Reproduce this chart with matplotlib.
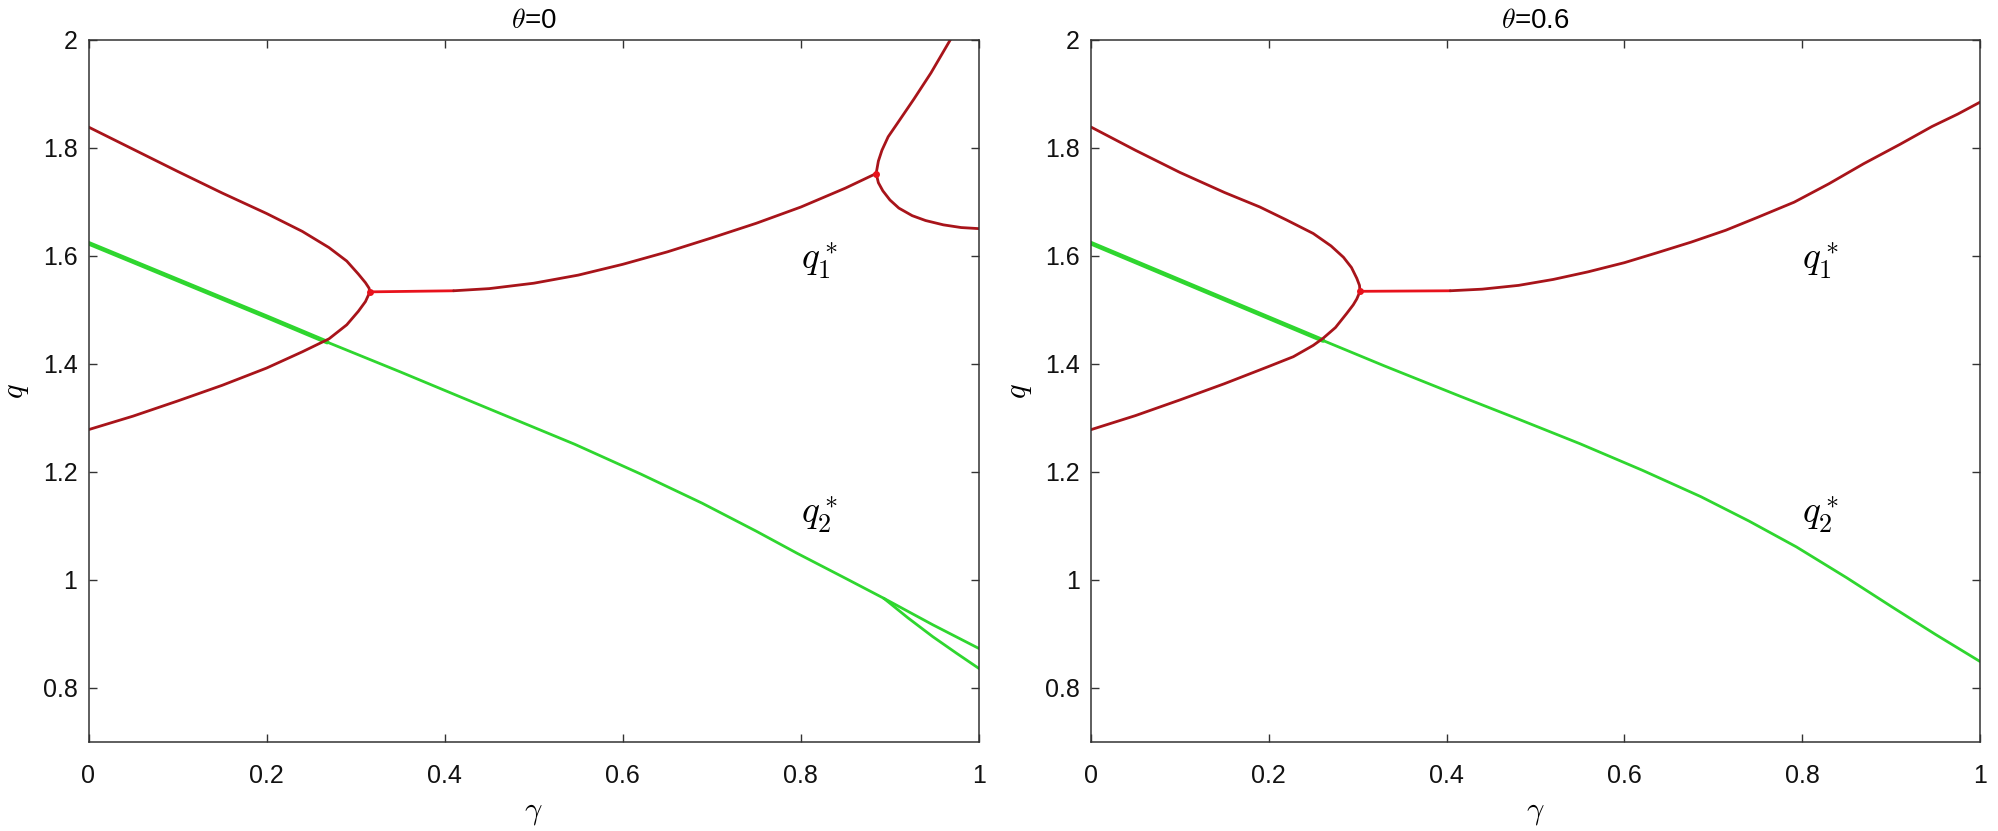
import matplotlib
matplotlib.use("Agg")
import matplotlib.pyplot as plt

plt.rcParams['font.family'] = ['Liberation Sans', 'DejaVu Sans']
plt.rcParams['mathtext.fontset'] = 'cm'

# ---------------- data ----------------
titles = [r"$\theta$=0", r"$\theta$=0.6"]
x_ticks = [0, 0.2, 0.4, 0.6, 0.8, 1]
x_ticklabels = ["0", "0.2", "0.4", "0.6", "0.8", "1"]
y_ticks = [0.8, 1.0, 1.2, 1.4, 1.6, 1.8, 2.0]
y_ticklabels = ["0.8", "1", "1.2", "1.4", "1.6", "1.8", "2"]

# theta = 0 : red (q1*) branches
l_red_upper_g = [0, 0.05, 0.10, 0.15, 0.20, 0.24, 0.27, 0.29, 0.303, 0.311, 0.315, 0.316]
l_red_upper_q = [1.838, 1.797, 1.756, 1.716, 1.678, 1.645, 1.615, 1.590, 1.566, 1.550, 1.540, 1.533]
l_red_lower_g = [0, 0.05, 0.10, 0.15, 0.20, 0.24, 0.27, 0.29, 0.303, 0.311, 0.316]
l_red_lower_q = [1.278, 1.303, 1.331, 1.360, 1.392, 1.422, 1.446, 1.472, 1.497, 1.515, 1.533]
l_red_flat_g = [0.316, 0.410]
l_red_flat_q = [1.533, 1.535]
l_red_right_g = [0.410, 0.45, 0.50, 0.55, 0.60, 0.65, 0.70, 0.75, 0.80, 0.85, 0.8845]
l_red_right_q = [1.535, 1.539, 1.549, 1.564, 1.584, 1.607, 1.633, 1.660, 1.690, 1.725, 1.752]
l_red_up2_g = [0.8845, 0.887, 0.891, 0.898, 0.908, 0.927, 0.946, 0.968]
l_red_up2_q = [1.752, 1.775, 1.795, 1.820, 1.844, 1.890, 1.938, 2.0]
l_red_low2_g = [0.8845, 0.887, 0.892, 0.900, 0.910, 0.925, 0.94, 0.96, 0.98, 1.0]
l_red_low2_q = [1.752, 1.735, 1.720, 1.703, 1.688, 1.674, 1.665, 1.657, 1.652, 1.650]
l_red_nodes_g = [0.316, 0.8845]
l_red_nodes_q = [1.533, 1.752]

# theta = 0 : green (q2*) branches
l_green_g = [0, 0.1, 0.2, 0.268, 0.35, 0.417, 0.48, 0.546, 0.62, 0.689, 0.75, 0.796, 0.85, 0.893]
l_green_q = [1.623, 1.555, 1.487, 1.440, 1.385, 1.339, 1.296, 1.251, 1.196, 1.142, 1.090, 1.049, 1.003, 0.966]
l_green_thick_g = [0, 0.1, 0.2, 0.268]
l_green_thick_q = [1.623, 1.555, 1.487, 1.440]
l_green_up_g = [0.893, 0.948, 1.0]
l_green_up_q = [0.966, 0.917, 0.873]
l_green_low_g = [0.893, 0.92, 0.948, 0.975, 1.0]
l_green_low_q = [0.966, 0.930, 0.895, 0.864, 0.836]

# theta = 0.6 : red
r_red_upper_g = [0, 0.05, 0.10, 0.15, 0.19, 0.22, 0.25, 0.27, 0.284, 0.293, 0.299, 0.302, 0.3026]
r_red_upper_q = [1.838, 1.795, 1.754, 1.717, 1.690, 1.666, 1.641, 1.618, 1.597, 1.578, 1.558, 1.545, 1.534]
r_red_lower_g = [0, 0.05, 0.10, 0.15, 0.20, 0.2276, 0.25, 0.261, 0.275, 0.2876, 0.295, 0.299, 0.3026]
r_red_lower_q = [1.278, 1.304, 1.333, 1.363, 1.395, 1.413, 1.434, 1.447, 1.467, 1.493, 1.509, 1.520, 1.534]
r_red_flat_g = [0.3026, 0.404]
r_red_flat_q = [1.534, 1.535]
r_red_right_g = [0.404, 0.44, 0.481, 0.52, 0.559, 0.60, 0.636, 0.675, 0.714, 0.75, 0.791,
                 0.83, 0.869, 0.91, 0.946, 0.975, 1.0]
r_red_right_q = [1.535, 1.538, 1.545, 1.556, 1.570, 1.587, 1.605, 1.625, 1.647, 1.671, 1.699,
                 1.733, 1.770, 1.806, 1.839, 1.862, 1.884]
r_red_nodes_g = [0.3026]
r_red_nodes_q = [1.534]

# theta = 0.6 : green
r_green_g = [0, 0.1, 0.2, 0.261, 0.33, 0.415, 0.48, 0.55, 0.62, 0.686, 0.74, 0.7935, 0.85, 0.901, 0.95, 1.0]
r_green_q = [1.623, 1.554, 1.485, 1.443, 1.396, 1.340, 1.298, 1.252, 1.203, 1.154, 1.109, 1.061, 1.004, 0.950, 0.899, 0.849]
r_green_thick_g = [0, 0.1, 0.2, 0.261]
r_green_thick_q = [1.623, 1.554, 1.485, 1.443]

RED = '#a8141a'
RED_BRIGHT = '#e8121c'
GREEN = '#2fd62f'

fig = plt.figure(figsize=(19.99, 8.31), dpi=100)
W, H = 1999, 831
ax1 = fig.add_axes([88.5 / W, 1 - 742 / H, (979 - 88.5) / W, (742 - 39.5) / H])
ax2 = fig.add_axes([1091 / W, 1 - 742 / H, (1980 - 1091) / W, (742 - 39.5) / H])


def style(ax, title):
    ax.set_xlim(0, 1)
    ax.set_ylim(0.7, 2.0)
    ax.set_xticks(x_ticks)
    ax.set_xticklabels(x_ticklabels)
    ax.set_yticks(y_ticks)
    ax.set_yticklabels(y_ticklabels)
    ax.tick_params(direction='in', length=6, width=1.0, color='#333333',
                   top=True, right=True, labelsize=18, labelcolor='#111111')
    ax.tick_params(axis='x', pad=16)
    ax.tick_params(axis='y', pad=8)
    for s in ax.spines.values():
        s.set_color('#333333')
        s.set_linewidth(1.1)
    ax.set_xlabel(r"$\gamma$", fontsize=22, labelpad=6)
    ax.set_ylabel(r"$q$", fontsize=22, labelpad=8)
    ax.set_title(title, fontsize=20, pad=8)
    ax.text(0.8, 1.59, r"$q_1^*$", fontsize=27, ha='left', va='center')
    ax.text(0.8, 1.12, r"$q_2^*$", fontsize=27, ha='left', va='center')


style(ax1, titles[0])
style(ax2, titles[1])

lw_r = 2.0
lw_g = 2.0
kw = dict(solid_capstyle='round', solid_joinstyle='round')
# left panel
ax1.plot(l_green_g, l_green_q, color=GREEN, lw=lw_g, **kw)
ax1.plot(l_green_thick_g, l_green_thick_q, color=GREEN, lw=3.3, **kw)
ax1.plot(l_green_up_g, l_green_up_q, color=GREEN, lw=lw_g, **kw)
ax1.plot(l_green_low_g, l_green_low_q, color=GREEN, lw=lw_g, **kw)
ax1.plot(l_red_upper_g, l_red_upper_q, color=RED, lw=lw_r, **kw)
ax1.plot(l_red_lower_g, l_red_lower_q, color=RED, lw=lw_r, **kw)
ax1.plot(l_red_flat_g, l_red_flat_q, color=RED_BRIGHT, lw=lw_r, **kw)
ax1.plot(l_red_right_g, l_red_right_q, color=RED, lw=lw_r, **kw)
ax1.plot(l_red_up2_g, l_red_up2_q, color=RED, lw=lw_r, **kw)
ax1.plot(l_red_low2_g, l_red_low2_q, color=RED, lw=lw_r, **kw)
ax1.plot(l_red_nodes_g, l_red_nodes_q, 'o', color=RED_BRIGHT, ms=5, mec='none')

# right panel
ax2.plot(r_green_g, r_green_q, color=GREEN, lw=lw_g, **kw)
ax2.plot(r_green_thick_g, r_green_thick_q, color=GREEN, lw=3.3, **kw)
ax2.plot(r_red_upper_g, r_red_upper_q, color=RED, lw=lw_r, **kw)
ax2.plot(r_red_lower_g, r_red_lower_q, color=RED, lw=lw_r, **kw)
ax2.plot(r_red_flat_g, r_red_flat_q, color=RED_BRIGHT, lw=lw_r, **kw)
ax2.plot(r_red_right_g, r_red_right_q, color=RED, lw=lw_r, **kw)
ax2.plot(r_red_nodes_g, r_red_nodes_q, 'o', color=RED_BRIGHT, ms=5, mec='none')

fig.savefig("out.png", dpi=100)
